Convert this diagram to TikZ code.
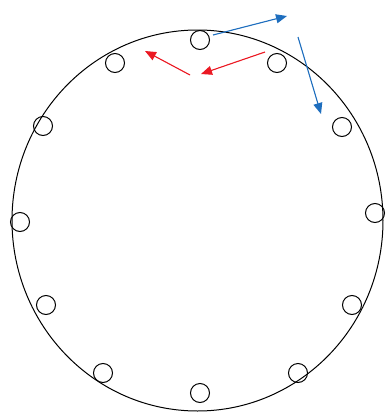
\documentclass[tikz,border=0pt]{standalone}
\usetikzlibrary{arrows.meta}

\begin{document}
\begin{tikzpicture}[
    x=1pt, y=-1pt,
    >={Triangle[length=11pt, width=9pt]},
    hole/.style={draw, line width=1pt, circle, minimum size=19pt, inner sep=0pt},
    rim/.style={draw, line width=1pt},
    bluearrow/.style={->, line width=1.1pt, draw=arrowblue, fill=arrowblue},
    redarrow/.style={->, line width=1.1pt, draw=arrowred, fill=arrowred}
]
\definecolor{arrowblue}{RGB}{30,110,190}
\definecolor{arrowred}{RGB}{235,25,35}

\useasboundingbox (0,0) rectangle (387,413);

% Outer ring
\draw[rim] (197.5,220.5) ellipse [x radius=185.5, y radius=190.5];

% Holes along the ring
\foreach \px/\py [count=\n] in {200/40, 277/63, 342/127, 375/213, 352/305, 298/373,
                                200/393, 103/373, 46/305, 20/222, 43/126, 115/63}
    \node[hole] (h\n) at (\px,\py) {};

% Arrow end points
\coordinate (b1s) at (213,35);
\coordinate (b1e) at (287,16);
\coordinate (b2s) at (298,37);
\coordinate (b2e) at (321,114);
\coordinate (r1s) at (190,75);
\coordinate (r1e) at (145,51);
\coordinate (r2s) at (265,52);
\coordinate (r2e) at (201,74);

% Arrows
\draw[bluearrow] (b1s) -- (b1e);
\draw[bluearrow] (b2s) -- (b2e);
\draw[redarrow] (r1s) -- (r1e);
\draw[redarrow] (r2s) -- (r2e);

\end{tikzpicture}
\end{document}
